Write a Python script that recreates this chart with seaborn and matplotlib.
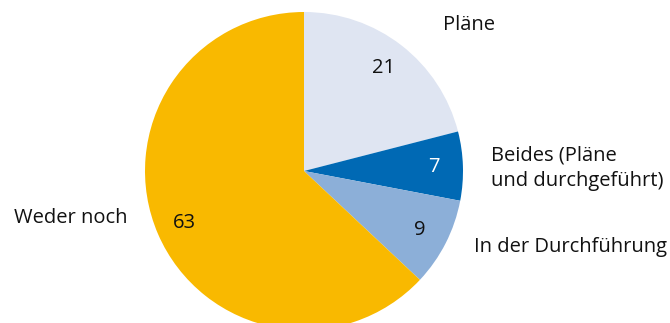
import seaborn as sns
import matplotlib.pyplot as plt

sns.set_theme(style="white")
plt.rcParams["font.family"] = ["Open Sans", "DejaVu Sans"]

# Data
categories = ["Pläne", "Beides (Pläne\nund durchgeführt)", "In der Durchführung", "Weder noch"]
values = [21, 7, 9, 63]
colors = ["#dfe5f2", "#0069b4", "#8cafd8", "#f9b900"]
value_colors = ["#111111", "white", "#111111", "#111111"]

fig = plt.figure(figsize=(6.7, 3.23), dpi=100)
# Pie centre ~ (304, 171) px, radius ~159 px
ax = fig.add_axes([145 / 670, (323 - 330) / 323, 318 / 670, 318 / 323])

wedges, _, autotexts = ax.pie(
    values, colors=colors, startangle=90, counterclock=False, radius=1,
    autopct=lambda p: f"{p:.0f}", pctdistance=0.82,
    wedgeprops=dict(linewidth=0),
    textprops=dict(fontsize=14.5),
)
for t, c in zip(autotexts, value_colors):
    t.set_color(c)

# Outer category labels
label_pos = [(0.874, 0.918, "left"), (1.176, 0.016, "left"),
             (1.069, -0.478, "left"), (-1.113, -0.296, "right")]
for name, (x, y, ha) in zip(categories, label_pos):
    ax.text(x, y, name, ha=ha, va="center", fontsize=14.5, color="#111111",
            linespacing=1.4)

ax.set_xlim(-1, 1)
ax.set_ylim(-1, 1)
ax.set_aspect("equal")
ax.axis("off")

fig.savefig("out.png", dpi=100)
